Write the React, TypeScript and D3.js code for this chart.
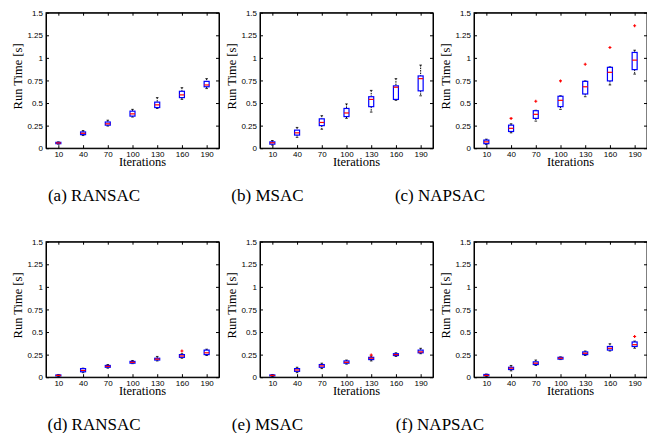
import React, { useRef, useEffect } from 'react';
import * as d3 from 'd3';

const iterations = [10, 40, 70, 100, 130, 160, 190];
const yTicks = [0, 0.25, 0.5, 0.75, 1, 1.25, 1.5];
const captions = ['(a) RANSAC', '(b) MSAC', '(c) NAPSAC', '(d) RANSAC', '(e) MSAC', '(f) NAPSAC'];

// (a) RANSAC
const aLow = [0.045, 0.14, 0.245, 0.345, 0.44, 0.54, 0.66];
const aQ1 = [0.05, 0.15, 0.255, 0.355, 0.45, 0.56, 0.68];
const aMed = [0.058, 0.165, 0.27, 0.38, 0.48, 0.59, 0.7];
const aQ3 = [0.065, 0.18, 0.29, 0.41, 0.51, 0.63, 0.74];
const aHigh = [0.07, 0.195, 0.31, 0.43, 0.56, 0.67, 0.77];
const aOut: number[][] = [[], [], [], [], [], [], []];

// (b) MSAC
const bLow = [0.035, 0.12, 0.21, 0.33, 0.4, 0.53, 0.58];
const bQ1 = [0.045, 0.145, 0.25, 0.35, 0.46, 0.54, 0.635];
const bMed = [0.06, 0.17, 0.285, 0.39, 0.54, 0.675, 0.77];
const bQ3 = [0.07, 0.2, 0.325, 0.44, 0.57, 0.69, 0.8];
const bHigh = [0.085, 0.23, 0.36, 0.49, 0.64, 0.77, 0.92];
const bOut: number[][] = [[], [], [], [], [], [], []];

// (c) NAPSAC
const cLow = [0.04, 0.17, 0.3, 0.43, 0.57, 0.7, 0.82];
const cQ1 = [0.05, 0.185, 0.33, 0.46, 0.6, 0.745, 0.87];
const cMed = [0.07, 0.22, 0.375, 0.53, 0.68, 0.84, 0.975];
const cQ3 = [0.09, 0.255, 0.415, 0.575, 0.74, 0.895, 1.06];
const cHigh = [0.1, 0.27, 0.42, 0.58, 0.745, 0.9, 1.085];
const cOut: number[][] = [[], [0.33], [0.52], [0.745], [0.93], [1.115], [1.355]];

// (d) RANSAC
const dLow = [0.01, 0.05, 0.1, 0.15, 0.18, 0.21, 0.24];
const dQ1 = [0.015, 0.06, 0.11, 0.155, 0.19, 0.22, 0.25];
const dMed = [0.02, 0.075, 0.12, 0.165, 0.2, 0.235, 0.27];
const dQ3 = [0.025, 0.095, 0.13, 0.175, 0.21, 0.25, 0.3];
const dHigh = [0.03, 0.1, 0.14, 0.185, 0.23, 0.26, 0.31];
const dOut: number[][] = [[], [], [], [], [], [0.29], []];

// (e) MSAC
const eLow = [0.01, 0.05, 0.095, 0.145, 0.18, 0.23, 0.26];
const eQ1 = [0.015, 0.065, 0.11, 0.155, 0.195, 0.24, 0.27];
const eMed = [0.02, 0.08, 0.125, 0.165, 0.21, 0.25, 0.28];
const eQ3 = [0.025, 0.095, 0.14, 0.18, 0.22, 0.26, 0.3];
const eHigh = [0.03, 0.11, 0.155, 0.19, 0.235, 0.27, 0.32];
const eOut: number[][] = [[], [], [], [], [0.245], [], []];

// (f) NAPSAC
const fLow = [0.01, 0.07, 0.13, 0.195, 0.24, 0.29, 0.32];
const fQ1 = [0.015, 0.085, 0.14, 0.2, 0.25, 0.3, 0.34];
const fMed = [0.02, 0.1, 0.155, 0.21, 0.265, 0.32, 0.36];
const fQ3 = [0.03, 0.11, 0.17, 0.22, 0.28, 0.34, 0.39];
const fHigh = [0.035, 0.13, 0.19, 0.225, 0.29, 0.37, 0.4];
const fOut: number[][] = [[], [], [], [], [], [], [0.45]];

const panels = [
  { low: aLow, q1: aQ1, med: aMed, q3: aQ3, high: aHigh, out: aOut },
  { low: bLow, q1: bQ1, med: bMed, q3: bQ3, high: bHigh, out: bOut },
  { low: cLow, q1: cQ1, med: cMed, q3: cQ3, high: cHigh, out: cOut },
  { low: dLow, q1: dQ1, med: dMed, q3: dQ3, high: dHigh, out: dOut },
  { low: eLow, q1: eQ1, med: eMed, q3: eQ3, high: eHigh, out: eOut },
  { low: fLow, q1: fQ1, med: fMed, q3: fQ3, high: fHigh, out: fOut },
];

const SERIF = "'Liberation Serif', 'Times New Roman', serif";
const SANS = "'Liberation Sans', Arial, sans-serif";

export default function App() {
  const svgRef = useRef<SVGSVGElement>(null);

  useEffect(() => {
    const root = d3.select(svgRef.current);
    root.selectAll('*').remove();

    const W = 173, H = 135.5;
    const lefts = [46, 260, 474];
    const tops = [12.7, 241.7];
    const capX = [94, 267.5, 440];
    const capY = [200.5, 430];

    panels.forEach((p, i) => {
      const col = i % 3, row = Math.floor(i / 3);
      const g = root.append('g').attr('transform', `translate(${lefts[col]},${tops[row]})`);

      const x = d3.scalePoint<number>().domain(iterations).range([0, W]).padding(0.5);
      const y = d3.scaleLinear().domain([0, 1.5]).range([H, 0]);

      g.append('rect').attr('width', W).attr('height', H).attr('fill', 'white');

      // axes, ticks pointing inward
      const styleAxis = (sel: any) => {
        sel.attr('font-size', 8).attr('font-family', SANS);
        sel.selectAll('path').attr('stroke', 'black');
        sel.selectAll('line').attr('stroke', 'black');
        sel.selectAll('text').attr('fill', 'black');
      };
      g.append('g')
        .call(d3.axisLeft(y).tickValues(yTicks).tickSize(-3).tickSizeOuter(0).tickPadding(3).tickFormat((d: any) => String(d)))
        .call(styleAxis);
      g.append('g').attr('transform', `translate(${W},0)`)
        .call(d3.axisRight(y).tickValues(yTicks).tickSize(-3).tickSizeOuter(0).tickFormat(() => ''))
        .call(styleAxis);
      g.append('g').attr('transform', `translate(0,${H})`)
        .call(d3.axisBottom(x).tickSize(-3).tickSizeOuter(0).tickPadding(3))
        .call(styleAxis);
      g.append('g')
        .call(d3.axisTop(x).tickSize(-3).tickSizeOuter(0).tickFormat(() => ''))
        .call(styleAxis);

      // box plots
      const bw = 5;
      iterations.forEach((it, k) => {
        const cx = x(it) as number;
        const b = g.append('g');
        // whiskers
        b.append('line').attr('x1', cx).attr('x2', cx).attr('y1', y(p.high[k])).attr('y2', y(p.q3[k]))
          .attr('stroke', 'black').attr('stroke-width', 1).attr('stroke-dasharray', '1.5,1');
        b.append('line').attr('x1', cx).attr('x2', cx).attr('y1', y(p.q1[k])).attr('y2', y(p.low[k]))
          .attr('stroke', 'black').attr('stroke-width', 1).attr('stroke-dasharray', '1.5,1');
        [p.high[k], p.low[k]].forEach(v => {
          b.append('line').attr('x1', cx - 1.3).attr('x2', cx + 1.3).attr('y1', y(v)).attr('y2', y(v))
            .attr('stroke', 'black').attr('stroke-width', 0.8);
        });
        // box
        b.append('rect')
          .attr('x', cx - bw / 2).attr('width', bw)
          .attr('y', y(p.q3[k])).attr('height', Math.max(1, y(p.q1[k]) - y(p.q3[k])))
          .attr('fill', 'white').attr('stroke', '#0000ff').attr('stroke-width', 1.2);
        // median
        b.append('line').attr('x1', cx - bw / 2).attr('x2', cx + bw / 2)
          .attr('y1', y(p.med[k])).attr('y2', y(p.med[k]))
          .attr('stroke', '#ff0000').attr('stroke-width', 1.2);
        // outliers
        p.out[k].forEach(v => {
          b.append('path')
            .attr('d', `M${cx - 1.5},${y(v)}H${cx + 1.5}M${cx},${y(v) - 1.5}V${y(v) + 1.5}`)
            .attr('stroke', '#ff0000').attr('stroke-width', 1.1);
        });
      });

      // frame
      g.append('rect').attr('width', W).attr('height', H).attr('fill', 'none')
        .attr('stroke', 'black').attr('stroke-width', 1);

      // axis labels
      g.append('text')
        .attr('x', W / 2 + 10).attr('y', H + 17.7)
        .attr('text-anchor', 'middle')
        .style('font-family', SERIF).style('font-size', '12.5px')
        .text('Iterations');
      g.append('text')
        .attr('transform', `translate(-24,${H / 2 - 4}) rotate(-90)`)
        .attr('text-anchor', 'middle')
        .style('font-family', SERIF).style('font-size', '12.5px')
        .text('Run Time [s]');

      // caption
      root.append('text')
        .attr('x', capX[col]).attr('y', capY[row])
        .attr('text-anchor', 'middle')
        .style('font-family', SERIF).style('font-size', '17px')
        .text(captions[i]);
    });
  }, []);

  return (
    <svg ref={svgRef} width={647} height={433}
      style={{ position: 'absolute', left: 0, top: 0, background: 'white', display: 'block' }} />
  );
}
